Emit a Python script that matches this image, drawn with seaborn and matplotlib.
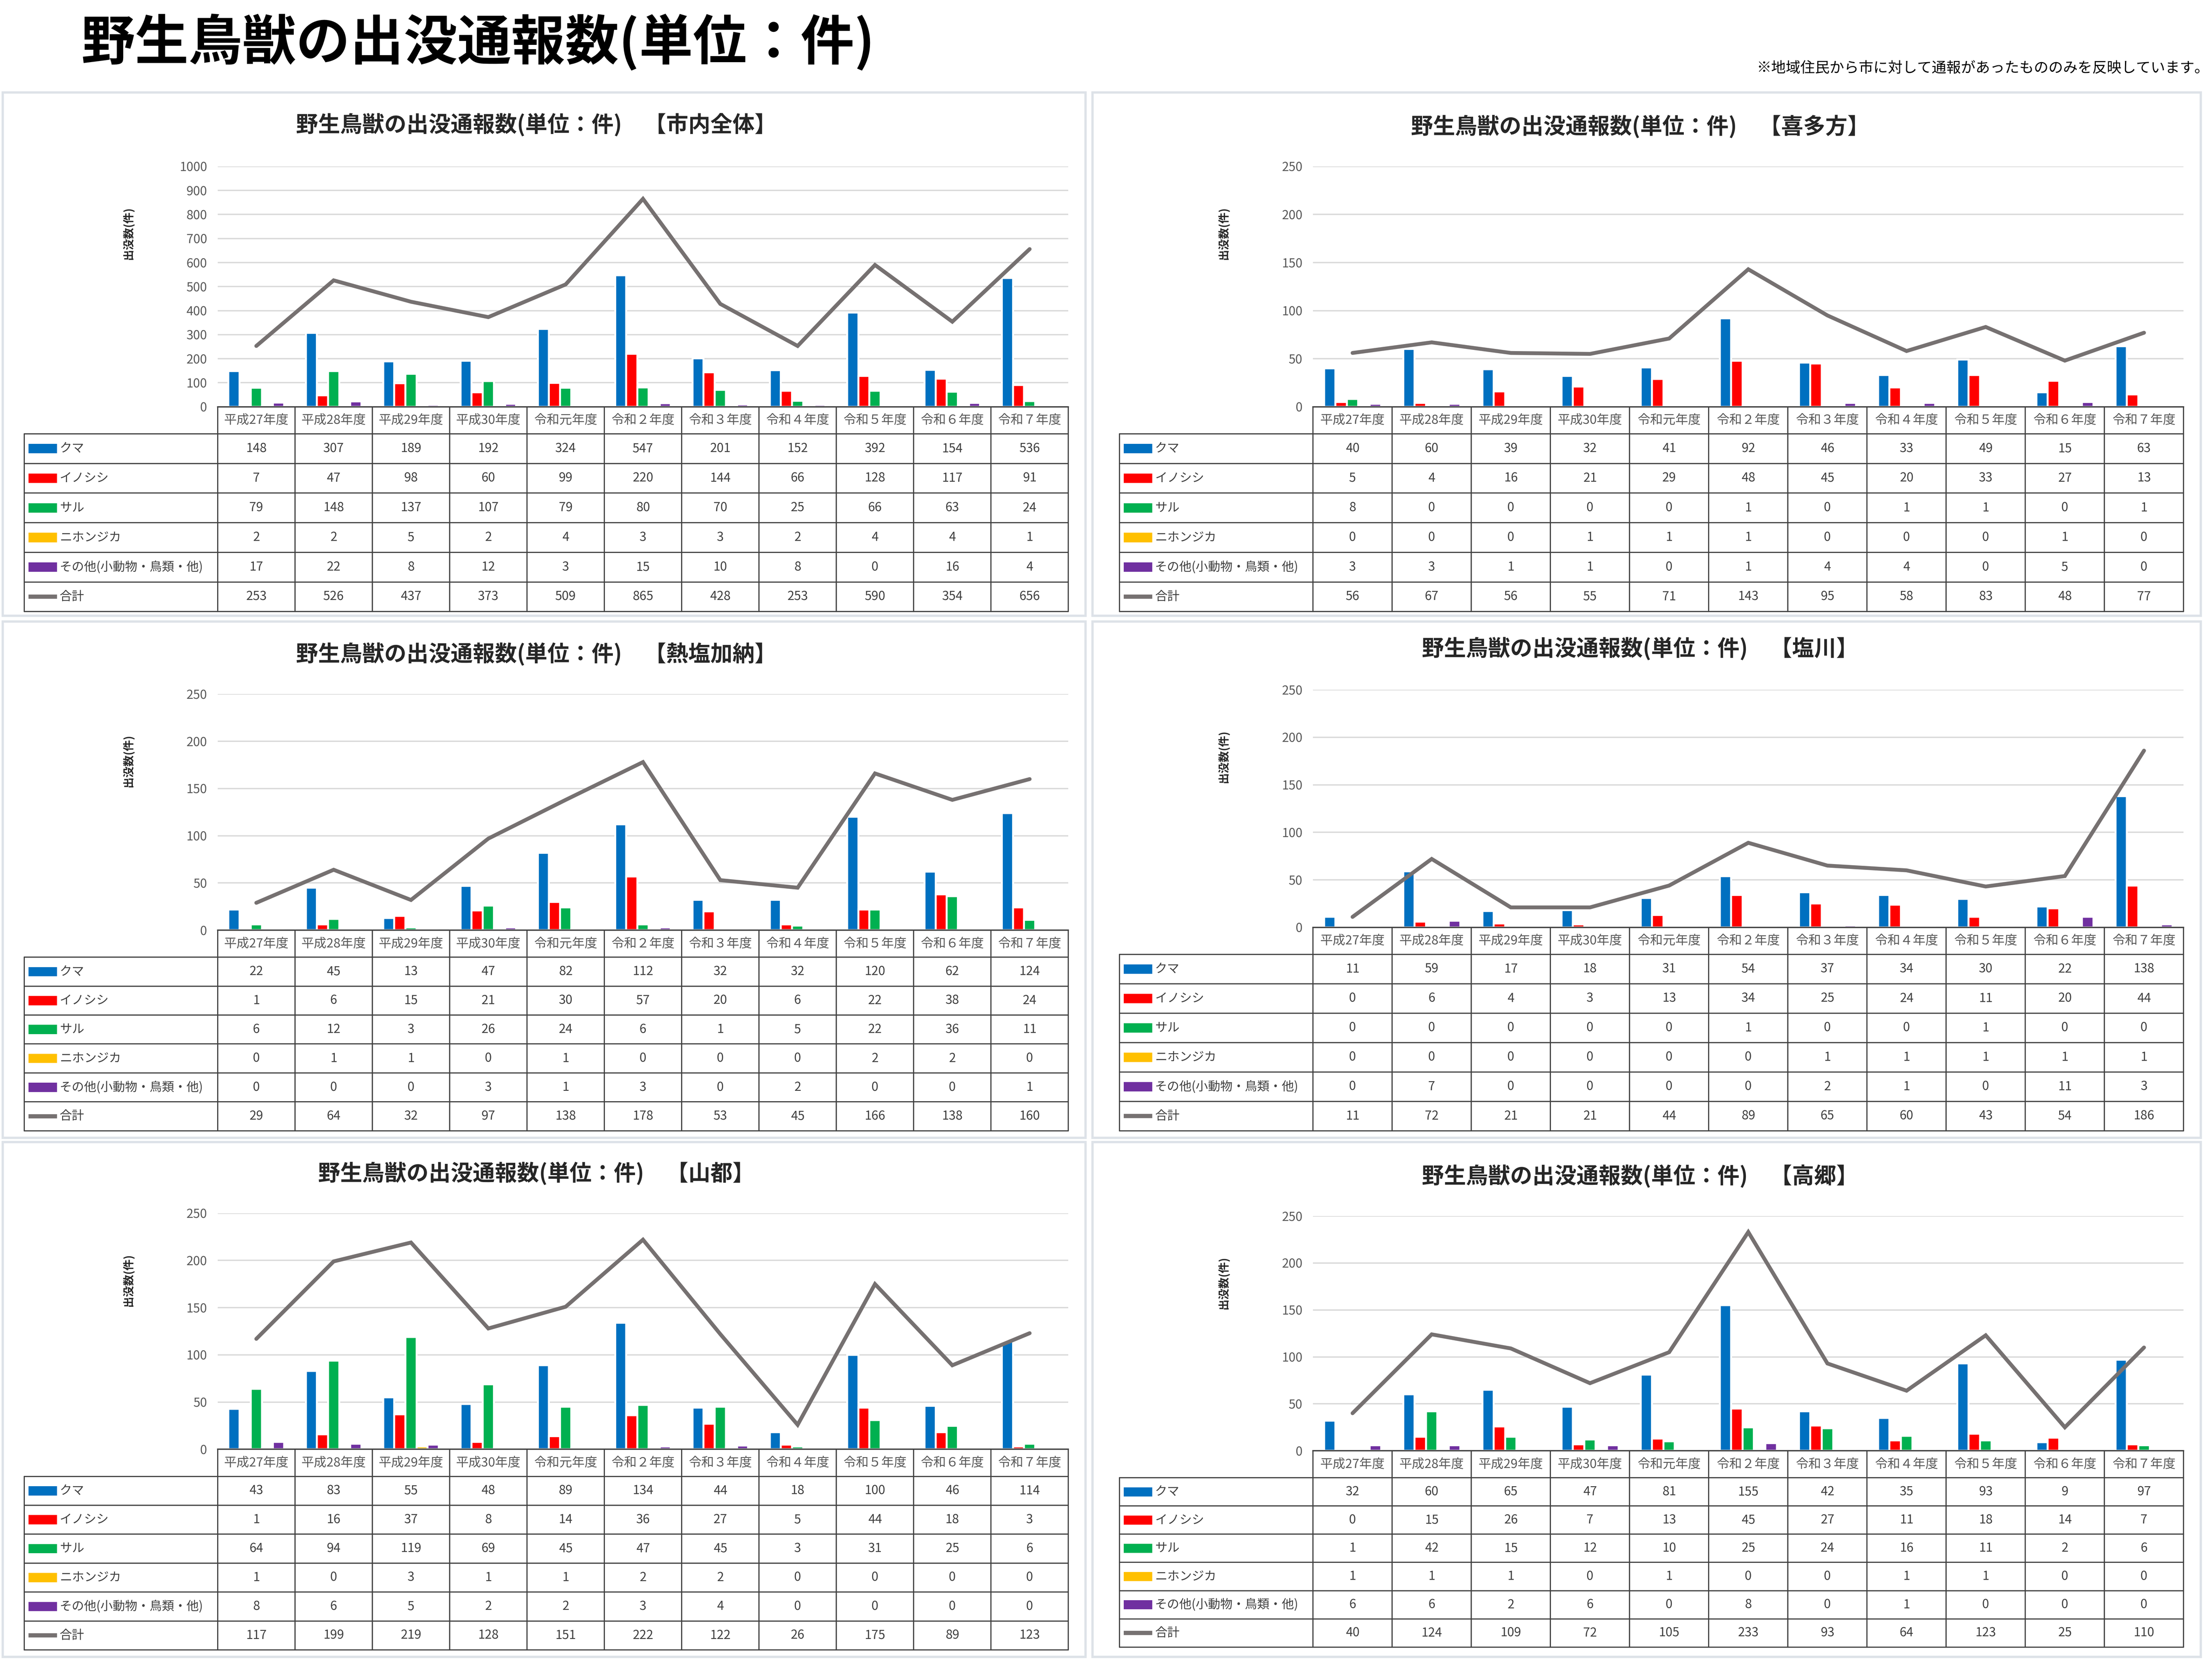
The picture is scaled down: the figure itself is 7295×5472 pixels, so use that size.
import numpy as np
import pandas as pd
import matplotlib
matplotlib.use('Agg')
import matplotlib.pyplot as plt
import seaborn as sns
from matplotlib.patches import Rectangle

# ---------------- data ----------------
years = ['平成27年度', '平成28年度', '平成29年度', '平成30年度', '令和元年度', '令和２年度',
         '令和３年度', '令和４年度', '令和５年度', '令和６年度', '令和７年度']
species = ['クマ', 'イノシシ', 'サル', 'ニホンジカ', 'その他(小動物・鳥類・他)']
total_label = '合計'
areas = ['市内全体', '喜多方', '熱塩加納', '塩川', '山都', '高郷']

kuma = {
    '市内全体': [148, 307, 189, 192, 324, 547, 201, 152, 392, 154, 536],
    '喜多方':   [40, 60, 39, 32, 41, 92, 46, 33, 49, 15, 63],
    '熱塩加納': [22, 45, 13, 47, 82, 112, 32, 32, 120, 62, 124],
    '塩川':     [11, 59, 17, 18, 31, 54, 37, 34, 30, 22, 138],
    '山都':     [43, 83, 55, 48, 89, 134, 44, 18, 100, 46, 114],
    '高郷':     [32, 60, 65, 47, 81, 155, 42, 35, 93, 9, 97],
}
inoshishi = {
    '市内全体': [7, 47, 98, 60, 99, 220, 144, 66, 128, 117, 91],
    '喜多方':   [5, 4, 16, 21, 29, 48, 45, 20, 33, 27, 13],
    '熱塩加納': [1, 6, 15, 21, 30, 57, 20, 6, 22, 38, 24],
    '塩川':     [0, 6, 4, 3, 13, 34, 25, 24, 11, 20, 44],
    '山都':     [1, 16, 37, 8, 14, 36, 27, 5, 44, 18, 3],
    '高郷':     [0, 15, 26, 7, 13, 45, 27, 11, 18, 14, 7],
}
saru = {
    '市内全体': [79, 148, 137, 107, 79, 80, 70, 25, 66, 63, 24],
    '喜多方':   [8, 0, 0, 0, 0, 1, 0, 1, 1, 0, 1],
    '熱塩加納': [6, 12, 3, 26, 24, 6, 1, 5, 22, 36, 11],
    '塩川':     [0, 0, 0, 0, 0, 1, 0, 0, 1, 0, 0],
    '山都':     [64, 94, 119, 69, 45, 47, 45, 3, 31, 25, 6],
    '高郷':     [1, 42, 15, 12, 10, 25, 24, 16, 11, 2, 6],
}
shika = {
    '市内全体': [2, 2, 5, 2, 4, 3, 3, 2, 4, 4, 1],
    '喜多方':   [0, 0, 0, 1, 1, 1, 0, 0, 0, 1, 0],
    '熱塩加納': [0, 1, 1, 0, 1, 0, 0, 0, 2, 2, 0],
    '塩川':     [0, 0, 0, 0, 0, 0, 1, 1, 1, 1, 1],
    '山都':     [1, 0, 3, 1, 1, 2, 2, 0, 0, 0, 0],
    '高郷':     [1, 1, 1, 0, 1, 0, 0, 1, 1, 0, 0],
}
sonota = {
    '市内全体': [17, 22, 8, 12, 3, 15, 10, 8, 0, 16, 4],
    '喜多方':   [3, 3, 1, 1, 0, 1, 4, 4, 0, 5, 0],
    '熱塩加納': [0, 0, 0, 3, 1, 3, 0, 2, 0, 0, 1],
    '塩川':     [0, 7, 0, 0, 0, 0, 2, 1, 0, 11, 3],
    '山都':     [8, 6, 5, 2, 2, 3, 4, 0, 0, 0, 0],
    '高郷':     [6, 6, 2, 6, 0, 8, 0, 1, 0, 0, 0],
}
goukei = {
    '市内全体': [253, 526, 437, 373, 509, 865, 428, 253, 590, 354, 656],
    '喜多方':   [56, 67, 56, 55, 71, 143, 95, 58, 83, 48, 77],
    '熱塩加納': [29, 64, 32, 97, 138, 178, 53, 45, 166, 138, 160],
    '塩川':     [11, 72, 21, 21, 44, 89, 65, 60, 43, 54, 186],
    '山都':     [117, 199, 219, 128, 151, 222, 122, 26, 175, 89, 123],
    '高郷':     [40, 124, 109, 72, 105, 233, 93, 64, 123, 25, 110],
}
y_max = {'市内全体': 1000, '喜多方': 250, '熱塩加納': 250, '塩川': 250, '山都': 250, '高郷': 250}
y_step = {'市内全体': 100, '喜多方': 50, '熱塩加納': 50, '塩川': 50, '山都': 50, '高郷': 50}

main_title = '野生鳥獣の出没通報数(単位：件)'
note_text = '※地域住民から市に対して通報があったもののみを反映しています。'
ylabel_text = '出没数(件)'

# ---------------- style ----------------
colors = ['#0070C0', '#FF0000', '#00B050', '#FFC000', '#7030A0']
line_color = '#767171'

sns.set_theme(style='white')
plt.rcParams['font.family'] = ['Noto Sans CJK JP', 'DejaVu Sans']

W, H = 1555.0, 1166.4
def fx(x):
    return x / W
def fy(y):
    return 1 - y / H

# layout in reference pixel units (box, plot area, table left, table bottom, title pos)
layout = {
    '市内全体': dict(box=(2, 65, 763, 433), plot=(153, 117, 751, 286), tleft=17, tbot=430, title=(377, 88)),
    '喜多方':   dict(box=(768, 65, 1547, 433), plot=(923, 117, 1535, 286), tleft=787, tbot=430, title=(1153, 89)),
    '熱塩加納': dict(box=(2, 437, 763, 800), plot=(153, 488, 751, 654), tleft=17, tbot=795, title=(377, 460)),
    '塩川':     dict(box=(768, 437, 1547, 800), plot=(923, 485, 1535, 652), tleft=787, tbot=795, title=(1153, 456)),
    '山都':     dict(box=(2, 803, 763, 1165), plot=(153, 853, 751, 1019), tleft=17, tbot=1160, title=(377, 825)),
    '高郷':     dict(box=(768, 803, 1547, 1165), plot=(923, 855, 1535, 1020), tleft=787, tbot=1158, title=(1153, 827)),
}

DPI = 456
fig = plt.figure(figsize=(7999 / 500, 6000 / 500), dpi=DPI)
fig.patch.set_facecolor('white')

fig.text(fx(57), fy(30), main_title, ha='left', va='center', fontsize=28,
         weight='bold', color='black')
fig.text(fx(1553), fy(48), note_text, ha='right', va='center', fontsize=7.6, color='black')

grid_c = '#d9d9d9'
tbl_c = '#404040'
txt_c = '#404040'

for area in areas:
    L = layout[area]
    bx0, by0, bx1, by1 = L['box']
    fig.add_artist(Rectangle((fx(bx0), fy(by1)), (bx1 - bx0) / W, (by1 - by0) / H,
                             transform=fig.transFigure, fill=False,
                             edgecolor='#dde2e8', lw=1.2, zorder=0))
    tx, ty = L['title']
    fig.text(fx(tx), fy(ty), f'野生鳥獣の出没通報数(単位：件)　【{area}】', ha='center',
             va='center', fontsize=11.5, weight='bold', color='#262626')

    x0, y0, x1, y1 = L['plot']
    ax = fig.add_axes([fx(x0), fy(y1), (x1 - x0) / W, (y1 - y0) / H])

    series = [kuma[area], inoshishi[area], saru[area], shika[area], sonota[area]]
    df = pd.DataFrame({
        '年度': years * len(species),
        '件数': np.concatenate(series),
        '種別': np.repeat(species, len(years)),
    })
    sns.barplot(data=df, x='年度', y='件数', hue='種別', order=years, hue_order=species,
                palette=colors, width=0.72, saturation=1, ax=ax, legend=False,
                errorbar=None, zorder=2)
    sns.pointplot(x=years, y=goukei[area], order=years, ax=ax, color=line_color,
                  markers='', linestyles='-', linewidth=2.0, errorbar=None)
    for ln in ax.lines:
        ln.set_zorder(4)
        ln.set_solid_joinstyle('miter')

    ax.set_xlim(-0.5, len(years) - 0.5)
    ax.set_ylim(0, y_max[area])
    ax.set_yticks(np.arange(0, y_max[area] + 1, y_step[area]))
    ax.set_xticks([])
    ax.set_xlabel('')
    ax.set_ylabel('')
    ax.tick_params(axis='y', length=0, pad=5.5, labelsize=6.5, labelcolor='#595959')
    ax.yaxis.grid(True, color=grid_c, lw=0.7)
    ax.set_axisbelow(True)
    for s in ['left', 'top', 'right']:
        ax.spines[s].set_visible(False)
    ax.spines['bottom'].set_color(tbl_c)
    ax.spines['bottom'].set_linewidth(0.7)
    ax.patch.set_alpha(0)

    fig.text(fx(x0 - 63), fy(y0 + 47), ylabel_text, rotation=90, ha='center', va='center',
             fontsize=5.8, weight='bold', color='#262626')

    # ---- data table ----
    tleft, tbot = L['tleft'], L['tbot']
    n = len(years)
    cw = (x1 - x0) / n
    off = (x0 - tleft) / cw
    xmin = -0.5 - off
    hdr_px = 19.0
    row_px = (tbot - y1 - hdr_px) / 6
    hdr = hdr_px / row_px
    nrows = 6
    ybot = -(hdr + nrows)

    tab = fig.add_axes([fx(tleft), fy(tbot), (x1 - tleft) / W, (tbot - y1) / H])
    tab.set_xlim(xmin, n - 0.5)
    tab.set_ylim(ybot, 0)
    tab.axis('off')

    for k in range(n + 1):
        tab.plot([k - 0.5, k - 0.5], [0, ybot], color=tbl_c, lw=0.6, clip_on=False)
    tab.plot([xmin, xmin], [-hdr, ybot], color=tbl_c, lw=0.6, clip_on=False)
    for r in range(nrows + 1):
        tab.plot([xmin, n - 0.5], [-hdr - r, -hdr - r], color=tbl_c, lw=0.6, clip_on=False)

    for i, yr in enumerate(years):
        tab.text(i, -hdr / 2, yr, ha='center', va='center', fontsize=6.6, color='#595959')

    rows = series + [goukei[area]]
    labels = species + [total_label]
    for r, (lab, vals) in enumerate(zip(labels, rows)):
        yc = -hdr - r - 0.5
        kx = xmin + 3 / cw
        kw = 20 / cw
        if r < len(species):
            tab.add_patch(Rectangle((kx, yc - 0.16), kw, 0.32, color=colors[r], lw=0))
        else:
            tab.plot([kx, kx + kw], [yc, yc], color=line_color, lw=2.2, solid_capstyle='butt')
        tab.text(xmin + 25 / cw, yc, lab, ha='left', va='center', fontsize=6.4, color=txt_c)
        for i, v in enumerate(vals):
            tab.text(i, yc, str(v), ha='center', va='center', fontsize=6.5, color=txt_c)

fig.savefig('out.png', dpi=DPI)
